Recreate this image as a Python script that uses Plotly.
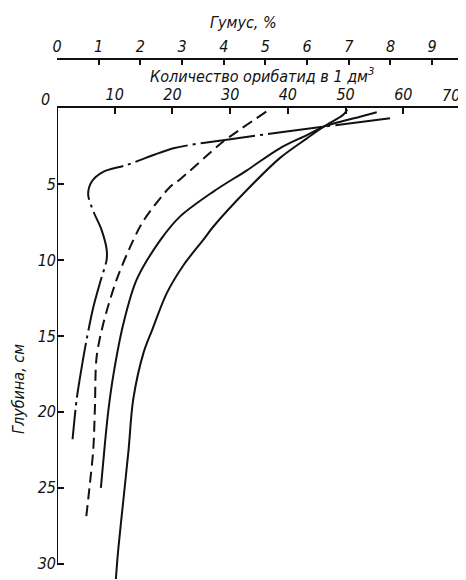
import plotly.graph_objects as go

# --- data ---
# Dash-dot curve (oribatids, count per dm3)
dd_count = [57.7, 46.2, 29.1, 20.2, 12.1, 8.0, 6.0, 5.4, 6.3, 7.7, 8.6, 8.6, 7.45, 6.3, 5.1, 4.0, 3.4, 2.7]
dd_depth = [0.68, 1.23, 2.1, 2.65, 3.75, 4.2, 4.85, 5.7, 6.8, 8.0, 9.3, 10.0, 11.5, 13.1, 15.3, 17.7, 19.2, 21.8]

# Dashed curve (humus, %)
hum_pct = [5.02, 3.99, 3.75, 2.95, 2.71, 2.08, 1.83, 1.43, 1.11, 0.95, 0.91, 0.87, 0.79, 0.69]
hum_depth = [0.24, 2.2, 2.76, 4.7, 5.2, 7.4, 8.7, 11.3, 14.2, 16.4, 19.7, 22.5, 24.7, 27.2]

# Inner solid curve (count per dm3)
s1_count = [55.4, 52.5, 46.2, 43.3, 38.6, 32.9, 27.1, 21.3, 17.9, 13.8, 11.5, 9.8, 8.9, 8.3, 7.6]
s1_depth = [0.28, 0.57, 1.23, 1.78, 2.65, 4.1, 5.5, 7.15, 8.7, 11.3, 14.2, 17.5, 19.9, 22.1, 25.0]

# Outer solid curve (count per dm3)
s2_count = [50.3, 49.6, 46.2, 43.3, 38.6, 32.9, 27.1, 25.3, 22.0, 19.0, 16.6, 15.0, 13.2, 12.4, 11.5, 10.6, 10.2]
s2_depth = [0.1, 0.45, 1.23, 2.0, 3.3, 5.4, 7.8, 8.7, 10.3, 12.2, 14.5, 16.1, 19.2, 22.5, 25.8, 29.1, 31.0]

count_ticks = [10, 20, 30, 40, 50, 60]
count_edge_tick = 70          # labelled by an annotation (sits at the page edge)
humus_ticks = [0, 1, 2, 3, 4, 5, 6, 7, 8, 9]
depth_ticks = [5, 10, 15, 20, 25, 30]

FONT = "DejaVu Sans Condensed, Liberation Sans Narrow, DejaVu Sans, sans-serif"
INK = "#111111"
tf = dict(family=FONT, size=16, color=INK, style="italic")

fig = go.Figure()
fig.add_trace(go.Scatter(x=dd_count, y=dd_depth, mode="lines",
                         line=dict(color=INK, width=2, dash="55px,5px,3px,5px", shape="spline", smoothing=0.8),
                         xaxis="x", yaxis="y"))
fig.add_trace(go.Scatter(x=hum_pct, y=hum_depth, mode="lines",
                         line=dict(color=INK, width=2, dash="11px,6px", shape="spline", smoothing=0.9),
                         xaxis="x2", yaxis="y"))
fig.add_trace(go.Scatter(x=s1_count, y=s1_depth, mode="lines",
                         line=dict(color=INK, width=2, shape="spline", smoothing=0.9),
                         xaxis="x", yaxis="y"))
fig.add_trace(go.Scatter(x=s2_count, y=s2_depth, mode="lines",
                         line=dict(color=INK, width=2, shape="spline", smoothing=0.9),
                         xaxis="x", yaxis="y"))

# page body has an 8px default margin: size the figure to fit inside the window
OFF = 8
W, H = 466 - OFF, 580 - OFF
plot_left_s, plot_right_s, plot_top_s, plot_bottom_s = 57, 461, 108, 579   # screen px
paper_top_s = 40
ml = plot_left_s - OFF
mr = W - (plot_right_s - OFF)
mt = paper_top_s - OFF
mb = H - (plot_bottom_s - OFF)
ph = plot_bottom_s - paper_top_s
pw = plot_right_s - plot_left_s
hum_line_s = 59

def py(s):
    return (plot_bottom_s - s) / ph

fig.update_layout(
    width=W, height=H,
    margin=dict(l=ml, r=mr, t=mt, b=mb, autoexpand=False),
    paper_bgcolor="white", plot_bgcolor="white",
    showlegend=False,
    xaxis=dict(range=[0, 70], side="top", anchor="y", showline=True, linewidth=2, linecolor=INK,
               ticks="inside", ticklen=6, tickwidth=1.5, tickcolor=INK, automargin=False,
               tickvals=count_ticks, tickfont=tf, showgrid=False, zeroline=False,
               minor=dict(tickvals=[count_edge_tick], ticks="inside", ticklen=6, tickwidth=1.5,
                          tickcolor=INK, showgrid=False)),
    xaxis2=dict(range=[0, 70 * 9 / 65], side="top", overlaying="x", anchor="free", position=py(hum_line_s),
                showline=True, linewidth=2, linecolor=INK, automargin=False,
                ticks="inside", ticklen=5, tickwidth=1.5, tickcolor=INK,
                tickvals=humus_ticks, tickfont=tf, showgrid=False, zeroline=False),
    yaxis=dict(range=[31, 0], domain=[0, py(plot_top_s)], showline=False, automargin=False,
               ticks="inside", ticklen=7, tickwidth=1.5, tickcolor=INK,
               tickvals=depth_ticks, tickfont=tf, showgrid=False, zeroline=False),
)

# y axis line from 0 to 30 cm
fig.add_shape(type="line", xref="x", yref="y", x0=0, x1=0, y0=0, y1=30,
              line=dict(color=INK, width=2))

fig.add_annotation(text="0", xref="x", yref="y", x=0, y=0, xanchor="right", yanchor="middle",
                   xshift=-5, yshift=8, showarrow=False, font=tf)
fig.add_annotation(text=str(count_edge_tick), xref="x", yref="paper", x=count_edge_tick, y=py(95),
                   xanchor="right", yanchor="middle", xshift=1, showarrow=False, font=tf)
fig.add_annotation(text="Количество орибатид в 1 дм<sup>3</sup>", xref="x", yref="paper",
                   x=35.5, y=py(75), showarrow=False, font=tf, xanchor="center", yanchor="middle")
fig.add_annotation(text="Гумус, %", xref="x", yref="paper",
                   x=32.4, y=py(22), showarrow=False, font=tf, xanchor="center", yanchor="middle")
fig.add_annotation(text="Глубина, см", xref="paper", yref="paper",
                   x=(18 - plot_left_s) / pw, y=py(389), textangle=-90,
                   showarrow=False, font=tf, xanchor="center", yanchor="middle")

fig.write_html("out.html")
